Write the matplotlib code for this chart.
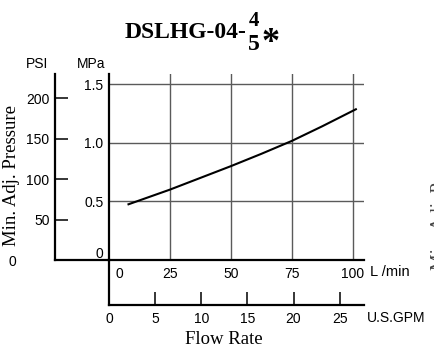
import numpy as np
import matplotlib
matplotlib.use("Agg")
import matplotlib.pyplot as plt
from matplotlib.transforms import ScaledTranslation

# curve: flow (L/min) vs min. adj. pressure (MPa)
flow_lpm = [8, 25, 37.5, 50, 62.5, 75, 87.5, 101.3]
press_mpa = [0.475, 0.60, 0.70, 0.80, 0.905, 1.015, 1.14, 1.285]

lpm_ticks = [0, 25, 50, 75, 100]
mpa_ticks = [0, 0.5, 1.0, 1.5]
mpa_labels = ["0", "0.5", "1.0", "1.5"]
psi_ticks = [0, 50, 100, 150, 200]
gpm_ticks = [0, 5, 10, 15, 20, 25]

PSI_PER_MPA = 145.038
LPM_PER_GPM = 3.78541

W, H = 434, 352
fig = plt.figure(figsize=(W / 100, H / 100), dpi=100)
sans = "Liberation Sans"
serif = "Liberation Serif"
plt.rcParams["font.family"] = sans

# main axes: L/min vs MPa
ax = fig.add_axes([109 / W, 1 - 260 / H, 255 / W, 186 / H])
ax.set_xlim(0, 255 / 2.437)
ax.set_ylim(0, 186 / 117.3)

for s in ["top", "right"]:
    ax.spines[s].set_visible(False)
for s in ["left", "bottom"]:
    ax.spines[s].set_linewidth(1.6)
    ax.spines[s].set_color("black")

ax.set_xticks(lpm_ticks)
ax.set_yticks(mpa_ticks)
ax.set_yticklabels(mpa_labels)
ax.tick_params(length=0, labelsize=10, colors="black")
ax.tick_params(axis="x", pad=5)
ax.tick_params(axis="y", pad=4)
for x in lpm_ticks[1:]:
    ax.axvline(x, color="#5a5a5a", lw=1.0, zorder=1)
for y in mpa_ticks[1:]:
    ax.axhline(y, color="#5a5a5a", lw=1.0, zorder=1)

# nudge some tick labels like the original
xl = ax.get_xticklabels()
xl[0].set_transform(xl[0].get_transform() + ScaledTranslation(0.10, 0, fig.dpi_scale_trans))
yl = ax.get_yticklabels()
yl[0].set_transform(yl[0].get_transform() + ScaledTranslation(0, 0.08, fig.dpi_scale_trans))

ax.plot(flow_lpm, press_mpa, color="black", lw=1.5, zorder=3)

# extra axis lines
psi_loc = (55 - 109) / 255
gpm_loc = (260 - 305) / 186
ax.plot([psi_loc, 0], [0, 0], transform=ax.transAxes, color="black", lw=1.6, clip_on=False)
ax.plot([0, 0], [gpm_loc, 0], transform=ax.transAxes, color="black", lw=1.6, clip_on=False)

# PSI axis
psi = ax.secondary_yaxis(psi_loc, functions=(lambda m: m * PSI_PER_MPA, lambda p: p / PSI_PER_MPA))
psi.set_yticks(psi_ticks)
psi.spines["left"].set_linewidth(1.6)
psi.tick_params(direction="in", length=9.5, width=1.1, labelsize=10, pad=4)
pl = psi.get_yticklabels()
pl[0].set_transform(pl[0].get_transform() + ScaledTranslation(-0.33, 0, fig.dpi_scale_trans))

# GPM axis
gpm = ax.secondary_xaxis(gpm_loc, functions=(lambda l: l / LPM_PER_GPM, lambda g: g * LPM_PER_GPM))
gpm.set_xticks(gpm_ticks)
gpm.spines["bottom"].set_linewidth(1.6)
gpm.tick_params(direction="in", length=9.5, width=1.1, labelsize=10, pad=5)

# unit / axis labels (figure pixel positions)
def ftext(x, y, s, **kw):
    fig.text(x / W, 1 - y / H, s, **kw)

ftext(37, 64, "PSI", ha="center", va="center", fontsize=10)
ftext(91, 64, "MPa", ha="center", va="center", fontsize=10)
ftext(370, 272, "L /min", ha="left", va="center", fontsize=10.5)
ftext(367, 318, "U.S.GPM", ha="left", va="center", fontsize=10)
ftext(224, 340, "Flow Rate", ha="center", va="center", fontsize=13.5, family=serif)
ftext(12, 176, "Min. Adj. Pressure", ha="center", va="center", fontsize=13.5,
      family=serif, rotation=90)
# fragment of neighbouring chart cut at the right edge
ftext(440, 200, "Min. Adj. Pressure", ha="center", va="center", fontsize=13.5,
      family=serif, rotation=90, color="#444444")

# title with stacked 4/5
ftext(246, 33, "DSLHG-04-", ha="right", va="center", fontsize=17,
      family=serif, weight="bold")
ftext(254, 21, "4", ha="center", va="center", fontsize=15, family=serif, weight="bold")
ftext(254, 44, "5", ha="center", va="center", fontsize=17, family=serif, weight="bold")
ftext(271, 43, "*", ha="center", va="center", fontsize=26, family=serif, weight="bold")

fig.savefig("out.png", dpi=100)
